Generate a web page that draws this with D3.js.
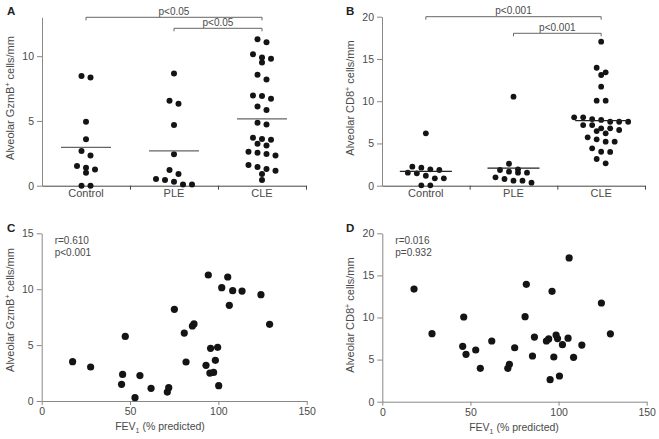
<!DOCTYPE html>
<html><head><meta charset="utf-8">
<script src="https://cdn.jsdelivr.net/npm/d3@7"></script>
<style>
body{margin:0;background:#fff}
text{font-family:"Liberation Sans",Arial,Helvetica,sans-serif}
</style>
</head><body>
<svg id="c" width="659" height="439"></svg>
<script>
// ---------- data ----------
const groups = ["Control", "PLE", "CLE"];

// Panel A: alveolar GzmB+ cells/mm
const ctrlGzmB = [8.46, 8.36, 4.93, 3.58, 2.67, 2.34, 1.52, 1.39, 1.26, 1.0, 0, 0];
const pleGzmB  = [8.67, 6.55, 6.32, 4.68, 2.42, 1.21, 0.9, 0.52, 0.44, 0.31, 0.1, 0.1];
const cleGzmB  = [11.31, 11.08, 10.15, 9.9, 9.8, 9.51, 8.56, 8.2, 6.97, 6.92, 6.71, 6.12, 5.84, 4.86, 4.73,
                  3.7, 3.6, 3.55, 3.24, 3.11, 2.62, 2.54, 2.44, 2.34, 1.6, 1.44, 1.29, 1.16, 0.9, 0.44];

// Panel B: alveolar CD8+ cells/mm
const ctrlCD8 = [6.2, 2.25, 2.13, 1.94, 1.86, 1.54, 1.47, 1.18, 0.87, 0.87, 0.05, 0.05];
const pleCD8  = [10.53, 2.6, 1.94, 1.86, 1.66, 1.54, 1.54, 0.99, 0.79, 0.59, 0.59, 0.36];
const cleCD8  = [17.04, 13.96, 13.42, 13.1, 11.72, 10.06, 10.06, 8.09, 8.09, 7.89, 7.78, 7.57, 7.57, 7.57,
                 7.18, 7.18, 6.79, 6.79, 6.59, 6.47, 6.2, 5.73, 5.49, 5.21, 5.21, 4.42, 4.02, 4.0, 3.16, 2.65];

// Panel C: FEV1 vs GzmB
const fevC  = [17.5, 27.7, 45.8, 45.2, 47.3, 55.6, 52.8, 61.9, 71.1, 71.9, 75.1, 80.7, 81.7, 85.3, 86.2,
               94.3, 93.0, 95.6, 95.2, 97.3, 98.3, 99.6, 100.2, 101.9, 105.3, 106.2, 108.1, 113.4, 124.1, 129.0];
const gzmbC = [3.52, 3.04, 2.38, 1.49, 5.78, 2.27, 0.3, 1.13, 0.8, 1.19, 8.2, 6.08, 3.49, 6.71, 6.89,
               11.27, 3.19, 4.71, 2.5, 2.56, 3.64, 4.8, 1.37, 10.14, 11.09, 8.56, 9.87, 9.83, 9.51, 6.86];

// Panel D: FEV1 vs CD8
const fevD = [18.0, 28.2, 46.2, 45.6, 47.5, 53.0, 55.6, 62.1, 71.2, 72.1, 75.1, 81.7, 81.0, 85.2, 86.3,
              93.1, 94.4, 96.3, 95.2, 97.3, 98.6, 99.4, 100.5, 102.2, 105.4, 106.0, 108.5, 113.2, 124.3, 129.4];
const cd8D = [13.38, 8.08, 10.06, 6.58, 5.63, 6.14, 3.96, 7.21, 3.96, 4.44, 6.41, 13.94, 10.1, 5.43, 7.68,
              7.21, 7.45, 13.11, 2.61, 5.31, 7.92, 7.5, 3.05, 6.77, 7.54, 17.07, 5.27, 6.73, 11.72, 8.06];

const ticksA = [0, 5, 10];
const ticksB = [0, 5, 10, 15, 20];
const ticksC = [0, 5, 10, 15];
const ticksD = [0, 5, 10, 15, 20];
const ticksFEV = [0, 50, 100, 150];

const bracketsA = [{from: "Control", to: "CLE", label: "p<0.05"}, {from: "PLE", to: "CLE", label: "p<0.05"}];
const bracketsB = [{from: "Control", to: "CLE", label: "p<0.001"}, {from: "PLE", to: "CLE", label: "p<0.001"}];
const statsC = ["r=0.610", "p<0.001"];
const statsD = ["r=0.016", "p=0.932"];

// ---------- drawing ----------
const svg = d3.select("#c");
const TXT = "#4a4a4a";

function yTitle(g, x, y, main, sup, rest) {
  const t = g.append("text").attr("transform", `translate(${x},${y}) rotate(-90)`)
    .attr("text-anchor", "middle").attr("font-size", 11).attr("fill", TXT);
  t.append("tspan").text(main);
  t.append("tspan").attr("font-size", 7).attr("dy", -4).text(sup);
  t.append("tspan").attr("dy", 4).text(rest);
}

function panelLabel(x, y, s) {
  svg.append("text").attr("x", x).attr("y", y).attr("font-size", 11.5).attr("font-weight", "bold")
    .attr("fill", "#222").text(s);
}

function yAxis(g, y, x0, ticks) {
  const ax = g.append("g").attr("transform", `translate(${x0},0)`)
    .call(d3.axisLeft(y).tickValues(ticks).tickSize(5).tickSizeOuter(0).tickPadding(3));
  ax.select(".domain").attr("stroke", "#888");
  ax.selectAll(".tick line").attr("stroke", "#888");
  ax.selectAll(".tick text").attr("fill", TXT).attr("font-size", 10.5)
    .attr("font-family", "Liberation Sans, Arial, sans-serif");
  return ax;
}

function swarm(values, y, thr, step) {
  const sorted = values.slice().sort((a, b) => b - a);
  const rows = [];
  let cur = null;
  sorted.forEach(v => {
    const py = y(v);
    if (cur && py - cur.y0 <= thr) cur.items.push(v);
    else { cur = {y0: py, items: [v]}; rows.push(cur); }
  });
  const out = [];
  rows.forEach(r => {
    const n = r.items.length;
    r.items.forEach((v, i) => out.push({v, dx: (i - (n - 1) / 2) * step}));
  });
  return out;
}

function columnPanel(o) {
  const g = svg.append("g");
  const x = d3.scaleBand().domain(groups).range(o.xRange).padding(0);
  const y = d3.scaleLinear().domain(o.yDomain).range(o.yRange);
  yAxis(g, y, o.xRange[0], o.ticks);
  const xb = d3.scaleLinear().domain([0, groups.length]).range(o.xRange);
  const xa = g.append("g").attr("transform", `translate(0,${o.yRange[0]})`)
    .call(d3.axisBottom(xb).tickValues([1, 2, 3]).tickSize(4).tickSizeOuter(0).tickFormat(""));
  xa.select(".domain").attr("stroke", "#444");
  xa.selectAll(".tick line").attr("stroke", "#444");
  const xl = g.append("g").attr("transform", `translate(0,${o.yRange[0]})`)
    .call(d3.axisBottom(x).tickSize(0).tickPadding(4));
  xl.select(".domain").remove();
  xl.selectAll(".tick text").attr("fill", TXT).attr("font-size", 11)
    .attr("font-family", "Liberation Sans, Arial, sans-serif");
  o.series.forEach((vals, i) => {
    const cx = x(groups[i]) + x.bandwidth() / 2;
    const pts = swarm(vals, y, o.thr, o.step);
    g.append("g").selectAll("circle").data(pts).join("circle")
      .attr("cx", d => cx + d.dx).attr("cy", d => y(d.v)).attr("r", o.r).attr("fill", "#141414");
    const m = d3.mean(vals);
    g.append("line").attr("x1", cx - o.meanHalf).attr("x2", cx + o.meanHalf)
      .attr("y1", y(m)).attr("y2", y(m)).attr("stroke", o.meanColor).attr("stroke-width", 1.3);
  });
  o.brackets.forEach((b, i) => {
    const x1 = x(b.from) + x.bandwidth() / 2, x2 = x(b.to) + x.bandwidth() / 2;
    const yy = o.bracketY[i];
    g.append("path").attr("d", `M${x1},${yy + 3}V${yy}H${x2}V${yy + 3}`)
      .attr("fill", "none").attr("stroke", "#666").attr("stroke-width", 1);
    g.append("text").attr("x", (x1 + x2) / 2).attr("y", yy - 2.5).attr("text-anchor", "middle")
      .attr("font-size", 10).attr("fill", TXT).text(b.label);
  });
  yTitle(g, o.titleX, o.titleY, o.yTitle[0], o.yTitle[1], o.yTitle[2]);
}

function scatterPanel(o) {
  const g = svg.append("g");
  const x = d3.scaleLinear().domain([0, 150]).range(o.xRange);
  const y = d3.scaleLinear().domain(o.yDomain).range(o.yRange);
  yAxis(g, y, o.xRange[0], o.ticks);
  const xa = g.append("g").attr("transform", `translate(0,${o.yRange[0]})`)
    .call(d3.axisBottom(x).tickValues(ticksFEV).tickSize(4).tickSizeOuter(0).tickPadding(3));
  xa.select(".domain").attr("stroke", "#888");
  xa.selectAll(".tick line").attr("stroke", "#888");
  xa.selectAll(".tick text").attr("fill", TXT).attr("font-size", 10.5)
    .attr("font-family", "Liberation Sans, Arial, sans-serif");
  g.append("g").selectAll("circle").data(o.xs.map((v, i) => [v, o.ys[i]])).join("circle")
    .attr("cx", d => x(d[0])).attr("cy", d => y(d[1])).attr("r", 3.6).attr("fill", "#141414");
  o.stats.forEach((s, i) => {
    g.append("text").attr("x", o.xRange[0] + 13).attr("y", o.yRange[1] + 11 + i * 11.5)
      .attr("font-size", 10).attr("fill", TXT).text(s);
  });
  const t = g.append("text").attr("x", o.xTitleX).attr("y", o.yRange[0] + 29)
    .attr("text-anchor", "middle").attr("font-size", 10.5).attr("fill", TXT);
  t.append("tspan").text("FEV");
  t.append("tspan").attr("font-size", 7).attr("dy", 3).text("1");
  t.append("tspan").attr("dy", -3).text(" (% predicted)");
  yTitle(g, o.titleX, o.titleY, o.yTitle[0], o.yTitle[1], o.yTitle[2]);
}

columnPanel({
  xRange: [42, 306], yDomain: [0, 13], yRange: [185.7, 17.3], ticks: ticksA,
  series: [ctrlGzmB, pleGzmB, cleGzmB], r: 3, thr: 5.8, step: 9, meanHalf: 25, meanColor: "#666",
  brackets: bracketsA, bracketY: [17.3, 28.3],
  titleX: 14, titleY: 98, yTitle: ["Alveolar GzmB", "+", " cells/mm"]
});
columnPanel({
  xRange: [382, 645], yDomain: [0, 20], yRange: [185.7, 16.7], ticks: ticksB,
  series: [ctrlCD8, pleCD8, cleCD8], r: 2.9, thr: 5.8, step: 9, meanHalf: 26, meanColor: "#222",
  brackets: bracketsB, bracketY: [16.7, 33.3],
  titleX: 354, titleY: 98, yTitle: ["Alveolar CD8", "+", " cells/mm"]
});
scatterPanel({
  xRange: [41.7, 306.7], yDomain: [0, 15], yRange: [401, 233.3], ticks: ticksC,
  xs: fevC, ys: gzmbC, stats: statsC, xTitleX: 160,
  titleX: 14, titleY: 310, yTitle: ["Alveolar GzmB", "+", " cells/mm"]
});
scatterPanel({
  xRange: [382.3, 646.7], yDomain: [0, 20], yRange: [401.7, 233.3], ticks: ticksD,
  xs: fevD, ys: cd8D, stats: statsD, xTitleX: 514,
  titleX: 354, titleY: 315, yTitle: ["Alveolar CD8", "+", " cells/mm"]
});

panelLabel(7, 15, "A");
panelLabel(346, 15, "B");
panelLabel(7, 232, "C");
panelLabel(346, 232, "D");
</script>
</body></html>
